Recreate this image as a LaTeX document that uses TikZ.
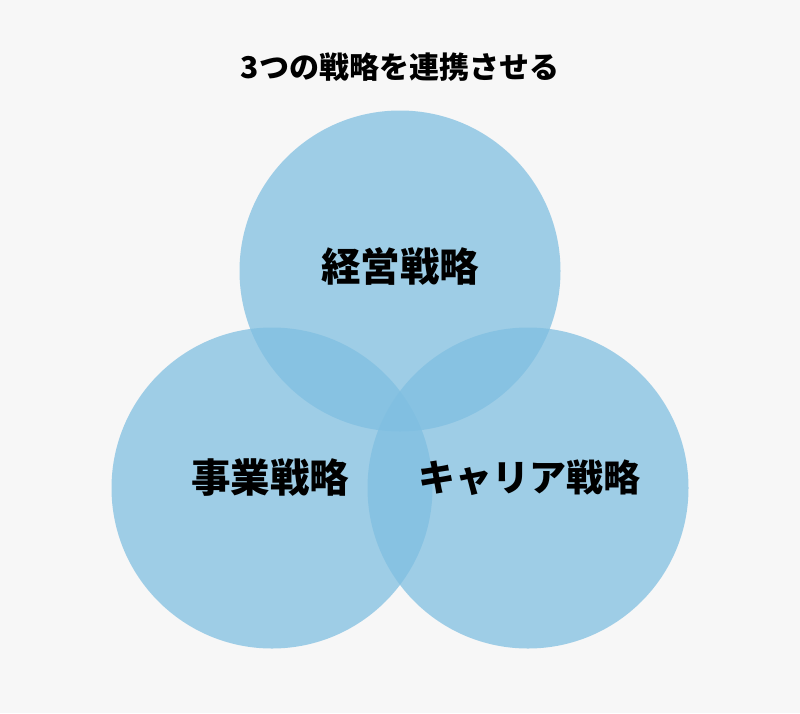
\documentclass[tikz,border=0pt]{standalone}
\usepackage{fontspec}
\setmainfont{Noto Sans CJK JP}
\usetikzlibrary{positioning}
\definecolor{bgcol}{RGB}{247,247,247}
\definecolor{setblue}{RGB}{128,191,225}
\begin{document}
\begin{tikzpicture}[x=1pt,y=-1pt,every node/.style = {align=center, font=\bfseries},set/.style = {circle, fill=setblue, fill opacity=0.74, minimum size=321pt, inner sep=0pt},lbl/.style = {font=\fontsize{39.5}{42}\selectfont\bfseries, text=black}]
\fill[bgcol] (0,0) rectangle (800,713);
\useasboundingbox (0,0) rectangle (800,713);
\node[set](top) at (400,271) {};
\node[set](left) at (272,488) {};
\node[set](right) at (528,488) {};
\node[lbl] at (top) [yshift=5pt] {経営戦略};
\node[lbl] at (left) [xshift=-2pt,yshift=10pt] {事業戦略};
\node[lbl,font=\fontsize{37}{40}\selectfont\bfseries] at (right) [yshift=10pt,xshift=1pt] {キャリア戦略};
\node[font=\fontsize{30}{33}\selectfont\bfseries] (title) at (400,67) {3つの戦略を連携させる};
\end{tikzpicture}
\end{document}
